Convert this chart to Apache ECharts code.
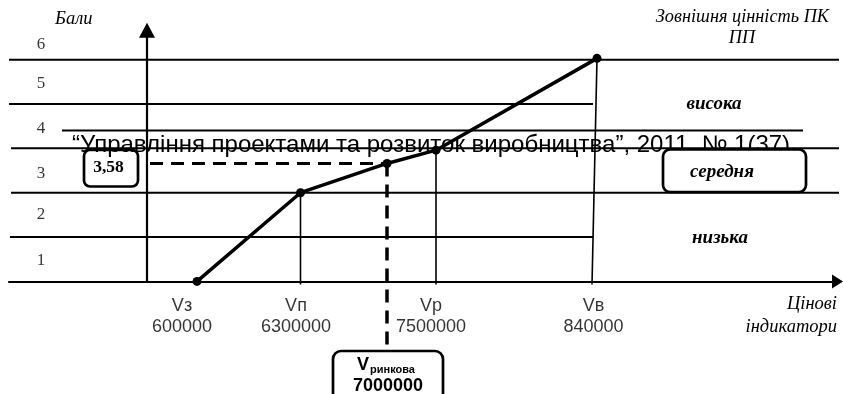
<!DOCTYPE html>
<html><head><meta charset="utf-8">
<script src="https://cdn.jsdelivr.net/npm/echarts@6/dist/echarts.min.js"></script>
<style>html,body{margin:0;padding:0;background:#fff}#c{width:843px;height:394px}</style>
</head><body><div id="c"></div>
<script>
// ---- data ----
const scoreTickLabels = ['1', '2', '3', '4', '5', '6'];
const scoreTickAt = [0.48, 1.5, 2.44, 3.44, 4.47, 5.35];
const bandLevels = [1, 2, 3, 4, 5];
const bandLineFrom = [-13.7, -13.6, -13.6, -13.8, -13.8];
const bandLineTo = [44.6, 69.6, 69.6, 44.6, 69.6];
const bandNames = ['низька', 'середня', 'висока'];
const pointNames = ['Vз', 'Vп', 'Vринкова', 'Vр', 'Vв'];
const pointX = [5.0, 15.35, 24.0, 28.9, 45.0];
const pointScore = [0, 2.0, 2.66, 2.96, 5.03];
const indicatorNames = ['Vз', 'Vп', 'Vр', 'Vв'];
const indicatorValues = ['600000', '6300000', '7500000', '840000'];
const indicatorLabelX = [3.5, 14.9, 28.4, 44.65];
const dropFromX = [15.35, 28.9, 45.0];
const dropFromY = [2.0, 2.96, 5.03];
const dropToX = [15.35, 28.9, 44.5];
const marketX = 24.0;
const marketScore = 2.66;
const marketValueLabel = '7000000';
const marketScoreLabel = '3,58';
const yAxisTitle = 'Бали';
const xAxisTitle = ['Цінові', 'індикатори'];
const rightTitle = ['Зовнішня цінність ПК', 'ПП'];
const headerText = '“Управління проектами та розвиток виробництва”, 2011, № 1(37)';

const SERIF = '"Liberation Serif", "Times New Roman", serif';
const SANS = '"Liberation Sans", Arial, sans-serif';
const BLACK = '#000';

const series = [];
bandLevels.forEach((lv, i) => {
  series.push({type: 'line', silent: true, clip: false, symbol: 'none', animation: false,
    data: [[bandLineFrom[i], lv], [bandLineTo[i], lv]],
    lineStyle: {color: BLACK, width: 2}});
});
dropFromX.forEach((x, i) => {
  series.push({type: 'line', silent: true, clip: false, symbol: 'none', animation: false,
    data: [[x, dropFromY[i]], [dropToX[i], -0.07]],
    lineStyle: {color: BLACK, width: 1.6}});
});
// dashed guides for market value
series.push({type: 'line', silent: true, clip: false, symbol: 'none', animation: false,
  data: [[0.3, marketScore], [marketX, marketScore]],
  lineStyle: {color: BLACK, width: 3, type: [13, 8]}});
series.push({type: 'line', silent: true, clip: false, symbol: 'none', animation: false,
  data: [[marketX, marketScore], [marketX, -1.55]],
  lineStyle: {color: BLACK, width: 3.5, type: [13, 8]}});
// main polyline
series.push({type: 'line', silent: true, clip: false, animation: false,
  data: pointX.map((x, i) => [x, pointScore[i]]),
  symbol: 'circle', symbolSize: 9, itemStyle: {color: BLACK},
  lineStyle: {color: BLACK, width: 3.5}});
// score tick labels
series.push({type: 'scatter', silent: true, clip: false, animation: false, symbolSize: 0,
  data: scoreTickAt.map((y) => [-10.6, y]),
  label: {show: true, position: 'inside', color: BLACK, fontFamily: SERIF, fontSize: 17,
    formatter: (p) => scoreTickLabels[p.dataIndex]}});
// indicator labels
series.push({type: 'scatter', silent: true, clip: false, animation: false, symbolSize: 0,
  data: indicatorLabelX.map((x) => [x, 0]),
  label: {show: true, position: 'inside', offset: [0, 35], color: BLACK, fontFamily: SANS,
    fontSize: 18, lineHeight: 21,
    formatter: (p) => indicatorNames[p.dataIndex] + '\n' + indicatorValues[p.dataIndex]}});

const chart = echarts.init(document.getElementById('c'), null, {renderer: 'canvas'});
chart.setOption({
  animation: false,
  backgroundColor: '#fff',
  grid: {left: 9, right: 5.5, top: 30.2, bottom: 112.6, containLabel: false, outerBoundsMode: 'none'},
  xAxis: {type: 'value', min: -13.8, max: 69.05,
    axisLine: {onZero: true, symbol: ['none', 'triangle'], symbolSize: [14, 11],
      lineStyle: {color: BLACK, width: 2.2}},
    axisTick: {show: false}, axisLabel: {show: false}, splitLine: {show: false}},
  yAxis: {type: 'value', min: 0, max: 5.665,
    axisLine: {onZero: true, symbol: ['none', 'triangle'], symbolSize: [16, 15],
      lineStyle: {color: BLACK, width: 2.2}},
    axisTick: {show: false}, axisLabel: {show: false}, splitLine: {show: false}},
  series: series
});

function px(x, y) { return chart.convertToPixel({gridIndex: 0}, [x, y]); }
const mk = px(marketX, marketScore);
const g = [];
// header (journal running title)
g.push({type: 'line', shape: {x1: 62, y1: 130.5, x2: 803, y2: 130.5}, style: {stroke: BLACK, lineWidth: 2.2}, z: 10});
g.push({type: 'text', x: 72, y: 145, z: 11,
  style: {text: headerText, font: '24px ' + SANS, fill: BLACK, textAlign: 'left', textVerticalAlign: 'middle'}});
// titles
g.push({type: 'text', x: 55, y: 19, style: {text: yAxisTitle, font: 'italic 18.5px ' + SERIF, fill: BLACK, textAlign: 'left', textVerticalAlign: 'middle'}});
g.push({type: 'text', x: 829, y: 17, style: {text: rightTitle[0], font: 'italic 18.3px ' + SERIF, fill: BLACK, textAlign: 'right', textVerticalAlign: 'middle'}});
g.push({type: 'text', x: 742, y: 38, style: {text: rightTitle[1], font: 'italic 18.3px ' + SERIF, fill: BLACK, textAlign: 'center', textVerticalAlign: 'middle'}});
g.push({type: 'text', x: 837, y: 304, style: {text: xAxisTitle[0], font: 'italic 18.5px ' + SERIF, fill: BLACK, textAlign: 'right', textVerticalAlign: 'middle'}});
g.push({type: 'text', x: 837, y: 327, style: {text: xAxisTitle[1], font: 'italic 18.5px ' + SERIF, fill: BLACK, textAlign: 'right', textVerticalAlign: 'middle'}});
// band names
g.push({type: 'text', x: 714, y: 104, style: {text: bandNames[2], font: 'italic bold 19px ' + SERIF, fill: BLACK, textAlign: 'center', textVerticalAlign: 'middle'}});
g.push({type: 'rect', shape: {x: 663, y: 149.5, width: 143, height: 42.5, r: 7}, style: {fill: '#fff', stroke: BLACK, lineWidth: 2.7}, z: 12});
g.push({type: 'text', x: 722, y: 172, z: 13, style: {text: bandNames[1], font: 'italic bold 19px ' + SERIF, fill: BLACK, textAlign: 'center', textVerticalAlign: 'middle'}});
g.push({type: 'text', x: 720, y: 238, style: {text: bandNames[0], font: 'italic bold 19px ' + SERIF, fill: BLACK, textAlign: 'center', textVerticalAlign: 'middle'}});
// market score box
g.push({type: 'rect', shape: {x: 84, y: 150, width: 54, height: 36.5, r: 6}, style: {fill: 'rgba(255,255,255,0)', stroke: BLACK, lineWidth: 2.7}, z: 9});
g.push({type: 'text', x: 108.5, y: 167, z: 9, style: {text: marketScoreLabel, font: 'bold 17.5px ' + SERIF, fill: BLACK, textAlign: 'center', textVerticalAlign: 'middle'}});
// market value box
g.push({type: 'rect', shape: {x: 333, y: 351, width: 110, height: 60, r: 8}, style: {fill: '#fff', stroke: BLACK, lineWidth: 2.7}, z: 12});
g.push({type: 'text', x: 357, y: 365.5, z: 13, style: {text: 'V', font: 'bold 18px ' + SANS, fill: BLACK, textAlign: 'left', textVerticalAlign: 'middle'}});
g.push({type: 'text', x: 370, y: 369.5, z: 13, style: {text: 'ринкова', font: 'bold 11px ' + SANS, fill: BLACK, textAlign: 'left', textVerticalAlign: 'middle'}});
g.push({type: 'text', x: mk[0] + 1, y: 386, z: 13, style: {text: marketValueLabel, font: 'bold 18px ' + SANS, fill: BLACK, textAlign: 'center', textVerticalAlign: 'middle'}});
chart.setOption({graphic: g});
</script>
</body></html>
